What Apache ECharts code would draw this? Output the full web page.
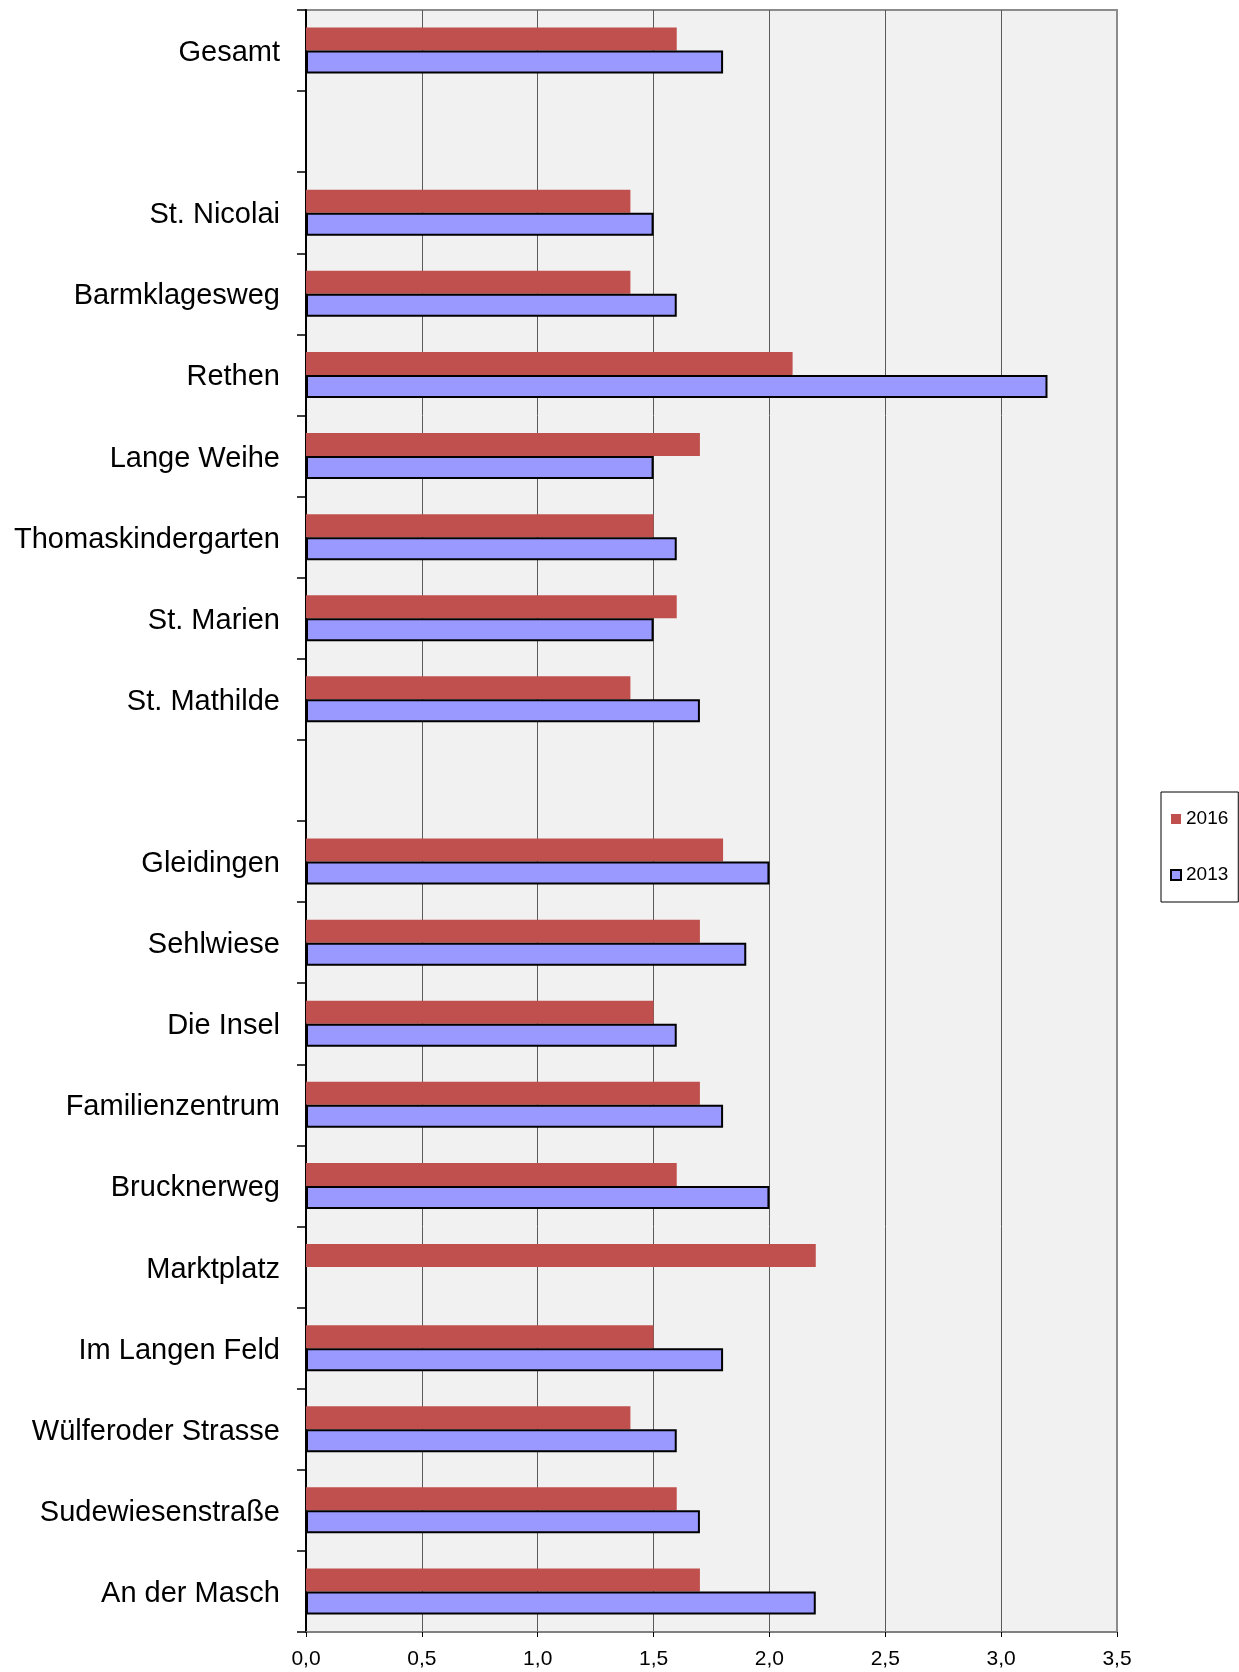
<!DOCTYPE html>
<html>
<head>
<meta charset="utf-8">
<script src="https://cdn.jsdelivr.net/npm/echarts@6/dist/echarts.min.js"></script>
<style>
html,body{margin:0;padding:0;background:#fff;}
#chart{width:1239px;height:1672px;}
</style>
</head>
<body>
<div id="chart"></div>
<script>
const categories = ["Gesamt", "", "St. Nicolai", "Barmklagesweg", "Rethen", "Lange Weihe", "Thomaskindergarten", "St. Marien", "St. Mathilde", " ", "Gleidingen", "Sehlwiese", "Die Insel", "Familienzentrum", "Brucknerweg", "Marktplatz", "Im Langen Feld", "Wülferoder Strasse", "Sudewiesenstraße", "An der Masch"];
const values2016 = [1.6, null, 1.4, 1.4, 2.1, 1.7, 1.5, 1.6, 1.4, null, 1.8, 1.7, 1.5, 1.7, 1.6, 2.2, 1.5, 1.4, 1.6, 1.7];
const values2013 = [1.8, null, 1.5, 1.6, 3.2, 1.5, 1.6, 1.5, 1.7, null, 2.0, 1.9, 1.6, 1.8, 2.0, null, 1.8, 1.6, 1.7, 2.2];
const seriesNames = ["2016", "2013"];
const xTicks = { min: 0, max: 3.5, interval: 0.5 };

const FONT = "'Liberation Sans', Arial, sans-serif";
const chart = echarts.init(document.getElementById('chart'), null, { renderer: 'canvas' });
chart.setOption({
  animation: false,
  backgroundColor: '#ffffff',
  textStyle: { fontFamily: FONT },
  grid: {
    left: 306, right: 122, top: 10, bottom: 40,
    show: true, backgroundColor: '#f1f1f1', borderColor: '#8c8c8c', borderWidth: 2
  },
  legend: {
    orient: 'vertical',
    left: 1161, top: 792,
    padding: [17, 10, 17, 9],
    itemGap: 36,
    itemWidth: 10, itemHeight: 10,
    icon: 'rect',
    borderColor: '#000', borderWidth: 1,
    textStyle: { fontSize: 19, color: '#000', fontFamily: FONT, lineHeight: 20 },
    data: seriesNames
  },
  xAxis: {
    type: 'value',
    min: xTicks.min, max: xTicks.max, interval: xTicks.interval,
    axisLine: { show: true, lineStyle: { color: '#808080', width: 2 } },
    axisTick: { show: true, length: 5, lineStyle: { color: '#000', width: 1 } },
    axisLabel: {
      fontSize: 21, color: '#000', margin: 17, fontFamily: FONT,
      formatter: v => v.toFixed(1).replace('.', ',')
    },
    splitLine: { show: true, showMinLine: false, showMaxLine: false, lineStyle: { color: '#5a5a5a', width: 1 } }
  },
  yAxis: {
    type: 'category',
    inverse: true,
    data: categories,
    axisLine: { show: true, lineStyle: { color: '#000', width: 2 } },
    axisTick: { show: true, length: 9, lineStyle: { color: '#000', width: 1.5 } },
    axisLabel: {
      color: '#000', margin: 26, interval: 0,
      formatter: v => v.trim() ? '{c|' + v + '}' : '',
      rich: { c: { fontSize: 29, color: '#000', fontFamily: FONT, padding: [5, 0, 0, 0] } }
    },
    splitLine: { show: false }
  },
  series: [
    {
      name: seriesNames[0], type: 'bar', data: values2016,
      barWidth: 23, barGap: '0%',
      itemStyle: { color: '#c0504d' }
    },
    {
      name: seriesNames[1], type: 'bar', data: values2013,
      barWidth: 23, barGap: '0%',
      itemStyle: { color: '#9999ff', borderColor: '#000', borderWidth: 2 }
    }
  ]
});
</script>
</body>
</html>
